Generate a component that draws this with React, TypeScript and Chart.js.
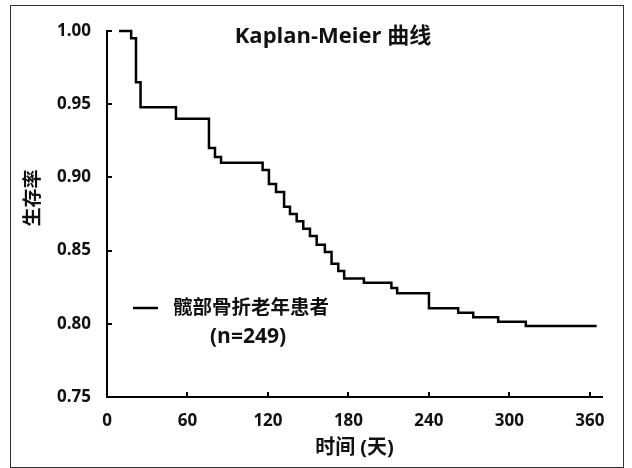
import React, { useEffect, useRef } from "react";
import { Chart, registerables } from "chart.js";

Chart.register(...registerables);

// Kaplan-Meier step data (day of event, survival after event)
const days = [9, 18, 21.6, 25, 51.4, 76, 80.5, 85, 116, 120.7, 126, 132, 136.4, 141.4, 146.3, 151.3, 156.3, 162.4, 167.4, 172.4, 176.8, 191.5, 212, 216.3, 240, 261.8, 273, 291.6, 312.2, 365];
const survival = [1.0, 0.995, 0.965, 0.948, 0.94, 0.92, 0.914, 0.91, 0.905, 0.8955, 0.89, 0.88, 0.875, 0.87, 0.865, 0.86, 0.854, 0.849, 0.841, 0.836, 0.831, 0.828, 0.8245, 0.8208, 0.8106, 0.8076, 0.8044, 0.8014, 0.7985, 0.7985];
const xTicks = [0, 60, 120, 180, 240, 300, 360];
const yTicks = [0.75, 0.8, 0.85, 0.9, 0.95, 1.0];
const seriesLabel = "髋部骨折老年患者";
const seriesNote = "(n=249)";
const chartTitle = "Kaplan-Meier 曲线";
const xTitle = "时间 (天)";
const yTitle = "生存率";

const FONT = '"Open Sans", "Noto Sans CJK SC", sans-serif';
const INK = "#111";

const overlay = {
  id: "kmOverlay",
  afterDraw(chart: any) {
    const { ctx, chartArea, scales } = chart;
    const xs = scales.x;
    const ys = scales.y;
    ctx.save();
    // inward tick marks
    ctx.strokeStyle = "#000";
    ctx.lineWidth = 2;
    yTicks.forEach((v) => {
      if (v === yTicks[0]) return;
      const py = Math.round(ys.getPixelForValue(v));
      ctx.beginPath();
      ctx.moveTo(chartArea.left, py);
      ctx.lineTo(chartArea.left + 5, py);
      ctx.stroke();
    });
    xTicks.forEach((v) => {
      if (v === xTicks[0]) return;
      const px = Math.round(xs.getPixelForValue(v));
      ctx.beginPath();
      ctx.moveTo(px, chartArea.bottom);
      ctx.lineTo(px, chartArea.bottom - 5);
      ctx.stroke();
    });

    // chart title
    ctx.fillStyle = INK;
    ctx.font = `bold 22px ${FONT}`;
    ctx.textAlign = "center";
    ctx.textBaseline = "middle";
    ctx.fillText(chartTitle, 333, 37);

    // legend
    const ds = chart.data.datasets[0];
    ctx.strokeStyle = ds.borderColor;
    ctx.lineWidth = 2.5;
    ctx.beginPath();
    ctx.moveTo(133, 308);
    ctx.lineTo(158, 308);
    ctx.stroke();
    ctx.font = `bold 19.5px ${FONT}`;
    ctx.textAlign = "left";
    ctx.fillText(ds.label, 173, 308);
    ctx.font = `bold 21px ${FONT}`;
    ctx.textAlign = "center";
    ctx.fillText(seriesNote, 248, 337);

    // y axis title
    ctx.translate(34, 198);
    ctx.rotate(-Math.PI / 2);
    ctx.font = `bold 19px ${FONT}`;
    ctx.textAlign = "center";
    ctx.textBaseline = "middle";
    ctx.fillText(yTitle, 0, 0);
    ctx.restore();
  },
};

export default function App() {
  const canvasRef = useRef<HTMLCanvasElement | null>(null);

  useEffect(() => {
    if (!canvasRef.current) return;
    const chart = new Chart(canvasRef.current, {
      type: "line",
      data: {
        datasets: [
          {
            label: seriesLabel,
            data: days.map((d, i) => ({ x: d, y: survival[i] })),
            borderColor: "#000",
            borderWidth: 2.5,
            pointRadius: 0,
            stepped: "before",
            fill: false,
            clip: false,
          } as any,
        ],
      },
      options: {
        animation: false,
        responsive: true,
        maintainAspectRatio: false,
        layout: { padding: { top: 31, right: 30, left: 0, bottom: 0 } },
        plugins: {
          legend: { display: false },
          tooltip: { enabled: false },
          title: { display: false },
        },
        scales: {
          x: {
            type: "linear",
            min: 0,
            max: 369,
            afterFit: (s: any) => {
              s.height = 71;
            },
            afterBuildTicks: (s: any) => {
              s.ticks = xTicks.map((v) => ({ value: v }));
            },
            grid: { display: false, drawTicks: false },
            border: { display: true, color: "#000", width: 2 },
            ticks: {
              padding: 14,
              color: INK,
              font: { family: FONT, size: 17, weight: "bold" },
              maxRotation: 0,
            },
            title: {
              display: true,
              text: xTitle,
              color: INK,
              font: { family: FONT, size: 20, weight: "bold" },
              padding: { top: 0, bottom: 8 },
            },
          },
          y: {
            type: "linear",
            min: 0.75,
            max: 1.0,
            afterFit: (s: any) => {
              s.width = 107;
            },
            afterBuildTicks: (s: any) => {
              s.ticks = yTicks.map((v) => ({ value: v }));
            },
            grid: { display: false, drawTicks: false },
            border: { display: true, color: "#000", width: 2 },
            ticks: {
              padding: 16,
              color: INK,
              font: { family: FONT, size: 17, weight: "bold" },
              callback: (v: any) => Number(v).toFixed(2),
            },
          },
        },
      },
      plugins: [overlay],
    });
    return () => chart.destroy();
  }, []);

  return (
    <div style={{ position: "absolute", left: 0, top: 0, width: 632, height: 468, background: "#fff" }}>
      <canvas ref={canvasRef} />
      <div
        style={{
          position: "absolute",
          left: 10,
          top: 5,
          width: 614,
          height: 463,
          boxSizing: "border-box",
          border: "1px solid #333",
          pointerEvents: "none",
        }}
      />
    </div>
  );
}
